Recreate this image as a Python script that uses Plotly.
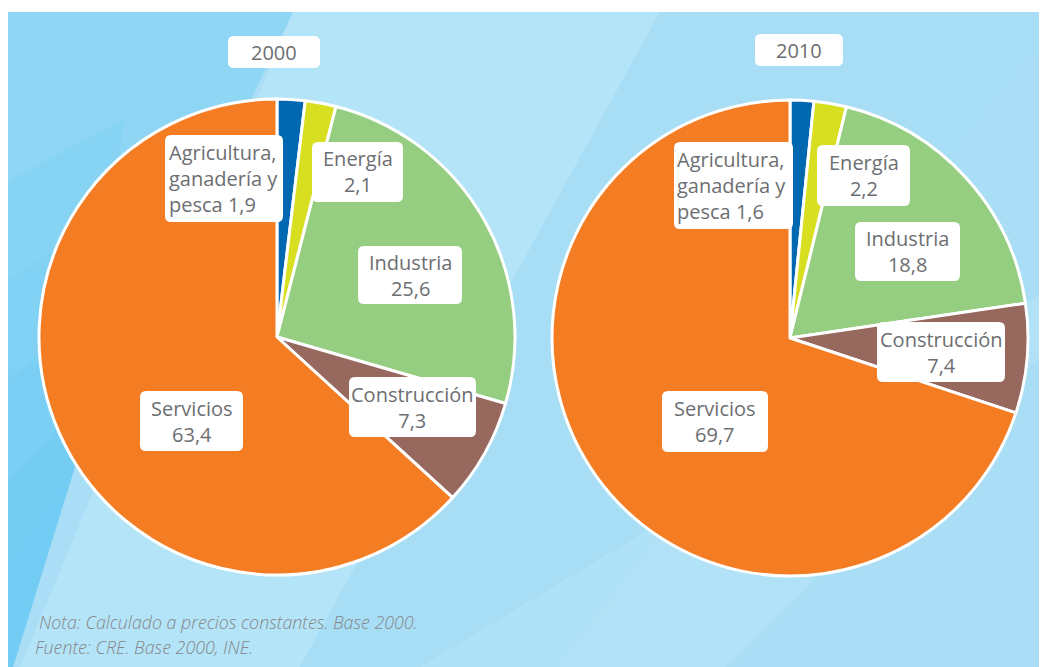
import plotly.graph_objects as go

# page body has an 8px default margin, so the figure is 8px smaller than the window
OFF = 8
W, H = 1047 - OFF, 667 - OFF

# ---- data ----
sectors = ["Agricultura, ganadería y pesca", "Energía", "Industria", "Construcción", "Servicios"]
values_2000 = [1.9, 2.1, 25.6, 7.3, 63.4]
values_2010 = [1.6, 2.2, 18.8, 7.4, 69.7]
years = ["2000", "2010"]
label_lines = [["Agricultura,", "ganadería y", "pesca"], ["Energía"], ["Industria"], ["Construcción"], ["Servicios"]]
colors = ["#0067b1", "#d8df20", "#95cd81", "#97685e", "#f47c22"]
note_lines = ["Nota: Calculado a precios constantes. Base 2000.", "Fuente: CRE. Base 2000, INE."]

TXT = "#6d6e71"
FONT = "Open Sans"


def fmt(v):
    return f"{v:.1f}".replace(".", ",")


# convert window-pixel coordinates to paper coordinates
def px(x):
    return (x - OFF) / W


def py(y):
    return 1 - (y - OFF) / H


def pie_domain(cx, cy, r):
    return dict(x=[px(cx - r), px(cx + r)], y=[py(cy + r), py(cy - r)])


fig = go.Figure()
pies = [(values_2000, (277, 337, 238)), (values_2010, (790, 338, 238))]
for vals, (cx, cy, r) in pies:
    fig.add_trace(go.Pie(
        labels=sectors, values=vals, sort=False, direction="clockwise", rotation=0,
        marker=dict(colors=colors, line=dict(color="white", width=3)),
        textinfo="none", hoverinfo="label+value", showlegend=False,
        domain=pie_domain(cx, cy, r),
    ))

shapes = []


def poly(points, color, opacity=1.0):
    d = "M " + " L ".join(f"{px(x)},{py(y)}" for x, y in points) + " Z"
    shapes.append(dict(type="path", path=d, xref="paper", yref="paper",
                       fillcolor=color, opacity=opacity, line=dict(width=0), layer="below"))


# background panel with soft diagonal bands
poly([(8, 12), (1047, 12), (1047, 667), (8, 667)], "#a9def6")
poly([(293, 12), (660, 12), (300, 667), (20, 667)], "#b6e5f8", 0.8)
poly([(660, 12), (1047, 12), (1047, 40), (560, 667), (300, 667)], "#a6ddf6", 0.6)
poly([(420, 667), (726, 667), (1047, 350), (1047, 290)], "#b9e6f8", 0.5)
poly([(8, 12), (293, 12), (77, 460), (13, 667), (8, 667)], "#8fd6f5")
# darker gradient towards the lower-left corner, built from soft overlapping layers
for k, y_top in enumerate([180, 280, 380, 480, 560]):
    poly([(8, y_top), (8 + (560 - y_top) * 0.2 + 40, y_top - 60), (77, 460), (13, 667), (8, 667)],
         "#62caf2", 0.18)

def rrect(x0, y0, x1, y1, r=6):
    X0, X1 = px(x0), px(x1)
    Y0, Y1 = py(y0), py(y1)
    rx, ry = r / W, r / H
    d = (f"M {X0+rx},{Y0} L {X1-rx},{Y0} Q {X1},{Y0} {X1},{Y0-ry} "
         f"L {X1},{Y1+ry} Q {X1},{Y1} {X1-rx},{Y1} L {X0+rx},{Y1} "
         f"Q {X0},{Y1} {X0},{Y1+ry} L {X0},{Y0-ry} Q {X0},{Y0} {X0+rx},{Y0} Z")
    shapes.append(dict(type="path", path=d, xref="paper", yref="paper",
                       fillcolor="white", line=dict(width=0), layer="above"))


annotations = []


def label(box, text, align="center", tx=None):
    x0, y0, x1, y1 = box
    rrect(x0, y0, x1, y1)
    cy = (y0 + y1) / 2
    if align == "left":
        annotations.append(dict(x=px(tx), y=py(cy), xref="paper", yref="paper", text=text,
                                showarrow=False, xanchor="left", yanchor="middle", align="left",
                                font=dict(family=FONT, size=20, color=TXT)))
    else:
        annotations.append(dict(x=px((x0 + x1) / 2), y=py(cy), xref="paper", yref="paper", text=text,
                                showarrow=False, xanchor="center", yanchor="middle", align="center",
                                font=dict(family=FONT, size=20, color=TXT)))


# year titles
label((228, 36, 320, 68), years[0])
label((755, 34, 843, 66), years[1])

boxes = [
    [(165, 135, 283, 222), (312, 142, 403, 202), (358, 246, 462, 304), (349, 377, 476, 437), (140, 391, 243, 451)],
    [(674, 142, 793, 229), (817, 145, 910, 206), (855, 222, 960, 281), (877, 322, 1005, 382), (662, 391, 768, 452)],
]
left_text_x = [167, 675]

for p, vals in enumerate([values_2000, values_2010]):
    for i, v in enumerate(vals):
        lines = label_lines[i]
        if len(lines) > 1:
            text = "<br>".join(lines[:-1] + [lines[-1] + " " + fmt(v)])
            label(boxes[p][i], text, align="left", tx=left_text_x[p])
        else:
            label(boxes[p][i], lines[0] + "<br>" + fmt(v))

# notes
annotations.append(dict(x=px(37), y=py(622), xref="paper", yref="paper", text=note_lines[0],
                        showarrow=False, xanchor="left", yanchor="middle",
                        font=dict(family=FONT, size=17.8, color="#85878a", style="italic", weight=300)))
annotations.append(dict(x=px(33), y=py(647), xref="paper", yref="paper", text=note_lines[1],
                        showarrow=False, xanchor="left", yanchor="middle",
                        font=dict(family=FONT, size=17.8, color="#85878a", style="italic", weight=300)))

fig.update_layout(
    width=W, height=H, margin=dict(l=0, r=0, t=0, b=0),
    paper_bgcolor="white", plot_bgcolor="white",
    shapes=shapes, annotations=annotations,
    font=dict(family=FONT),
)

fig.write_html("out.html")
